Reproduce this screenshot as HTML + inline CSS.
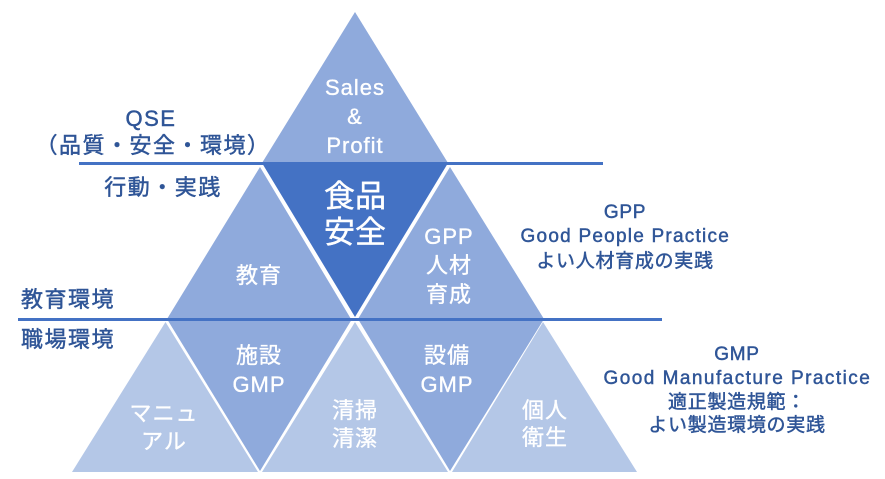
<!DOCTYPE html>
<html><head><meta charset="utf-8">
<style>
html,body{margin:0;padding:0;background:#fff}
svg{display:block}
text{font-family:"Liberation Sans","Noto Sans CJK JP",sans-serif;text-anchor:middle}
.w{fill:#fff;stroke:#fff;stroke-width:.35px;font-size:22px;letter-spacing:1px}
.b{fill:#2f5597;stroke:#2f5597;stroke-width:.45px}
.l{font-size:22px;letter-spacing:1.5px}
.s{font-size:19px;letter-spacing:.7px}
</style></head><body>
<svg width="885" height="479" viewBox="0 0 885 479" xmlns="http://www.w3.org/2000/svg">
<polygon points="355,12 262,163 448,163" fill="#8faadc"/>
<polygon points="262,163 448,163 355,317" fill="#4472c4"/>
<polygon points="260,167 167,319 351,319" fill="#8faadc"/>
<polygon points="450,167 358,319 544,319" fill="#8faadc"/>
<polygon points="167,319 352,319 260,471" fill="#8faadc"/>
<polygon points="358,319 544,319 450,471" fill="#8faadc"/>
<polygon points="165.500,322 72,472 258,472" fill="#b4c7e7"/>
<polygon points="355,322 262,472 448,472" fill="#b4c7e7"/>
<polygon points="543,322 452,472 637,472" fill="#b4c7e7"/>
<rect x="79" y="162" width="524" height="3" fill="#4472c4"/>
<rect x="18" y="318" width="644" height="3" fill="#4472c4"/>

<text class="w" x="355" y="95">Sales</text>
<text class="w" x="355" y="124">&amp;</text>
<text class="w" x="355" y="153">Profit</text>
<text x="355" y="207" fill="#fff" stroke="#fff" stroke-width=".4" style="font-size:31px">食品</text>
<text x="355" y="243" fill="#fff" stroke="#fff" stroke-width=".4" style="font-size:31px">安全</text>
<text class="w" x="259" y="283">教育</text>
<text class="w" x="449" y="244">GPP</text>
<text class="w" x="449" y="273">人材</text>
<text class="w" x="449" y="302">育成</text>
<text class="w" x="259" y="363">施設</text>
<text class="w" x="259" y="392">GMP</text>
<text class="w" x="447" y="363">設備</text>
<text class="w" x="447" y="392">GMP</text>
<text class="w" x="164" y="421">マニュ</text>
<text class="w" x="164" y="449">アル</text>
<text class="w" x="355" y="418">清掃</text>
<text class="w" x="355" y="446">清潔</text>
<text class="w" x="545" y="418">個人</text>
<text class="w" x="545" y="445">衛生</text>

<text class="b l" x="151" y="126">QSE</text>
<text class="b l" x="153" y="153">（品質・安全・環境）</text>
<text class="b l" x="163" y="195">行動・実践</text>
<text class="b l" x="68" y="307">教育環境</text>
<text class="b l" x="68" y="347">職場環境</text>

<text class="b s" x="625" y="218">GPP</text>
<text class="b s" x="625" y="242" textLength="209" lengthAdjust="spacing">Good People Practice</text>
<text class="b s" x="625" y="267">よい人材育成の実践</text>
<text class="b s" x="737" y="360">GMP</text>
<text class="b s" x="737" y="384" textLength="267" lengthAdjust="spacing">Good Manufacture Practice</text>
<text class="b s" x="737" y="408">適正製造規範：</text>
<text class="b s" x="737" y="431">よい製造環境の実践</text>
</svg>
</body></html>
